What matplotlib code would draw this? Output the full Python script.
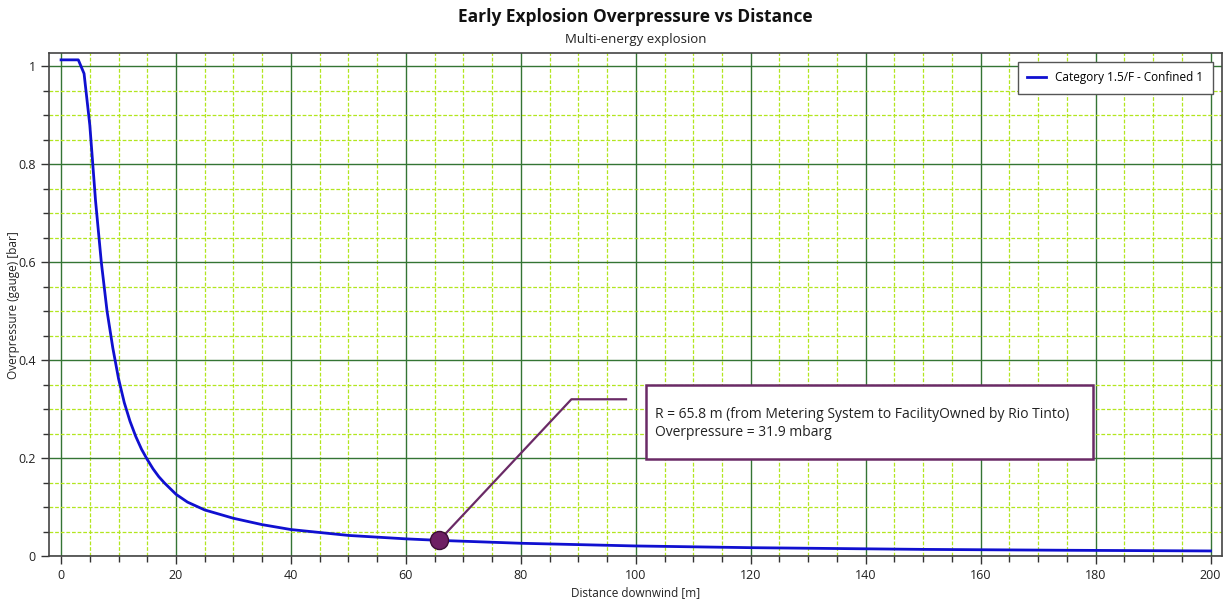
import matplotlib
matplotlib.use("Agg")
import matplotlib.pyplot as plt
from matplotlib.ticker import MultipleLocator
from matplotlib.patches import Rectangle

# ---- data ----
distance = [0, 3, 4, 5, 6, 7, 8, 9, 10, 11, 12, 13, 14, 15, 16, 17, 18, 20,
            22, 25, 30, 35, 40, 50, 60, 65.8, 80, 100, 120, 150, 175, 200]
overpressure = [1.013, 1.013, 0.985, 0.88, 0.725, 0.60, 0.50, 0.425, 0.362,
                0.313, 0.275, 0.244, 0.218, 0.197, 0.178, 0.162, 0.149, 0.126,
                0.110, 0.094, 0.077, 0.064, 0.054, 0.042, 0.035, 0.0319, 0.026,
                0.0205, 0.017, 0.0135, 0.0117, 0.0103]
series_label = "Category 1.5/F - Confined 1"
marker_distance = 65.8
marker_overpressure = 0.0319
annot_lines = ["R = 65.8 m (from Metering System to FacilityOwned by Rio Tinto)",
               "Overpressure = 31.9 mbarg"]
title = "Early Explosion Overpressure vs Distance"
subtitle = "Multi-energy explosion"
xlabel = "Distance downwind [m]"
ylabel = "Overpressure (gauge) [bar]"

plt.rcParams['font.family'] = ['Open Sans', 'DejaVu Sans']

W, H = 1223, 603
fig = plt.figure(figsize=(W / 100, H / 100), dpi=100)
ax = fig.add_axes([49 / W, 1 - 556 / H, (1222 - 49) / W, (556 - 53) / H])
cx = (49 + 1222) / 2 / W

major_c = "#347534"
minor_c = "#b2e61e"
ax.set_xlim(-2.1, 202)
ax.set_ylim(0, 1.027)
ax.xaxis.set_major_locator(MultipleLocator(20))
ax.xaxis.set_minor_locator(MultipleLocator(5))
ax.yaxis.set_major_locator(MultipleLocator(0.2))
ax.yaxis.set_minor_locator(MultipleLocator(0.05))
ax.set_yticks([0, 0.2, 0.4, 0.6, 0.8, 1.0])
ax.set_yticklabels(["0", "0.2", "0.4", "0.6", "0.8", "1"])
ax.grid(which="minor", color=minor_c, linestyle=(0, (3, 1.5)), linewidth=0.9)
ax.grid(which="major", color=major_c, linestyle="-", linewidth=1.0)
ax.set_axisbelow(True)
ax.tick_params(which="major", direction="out", length=6, width=1,
               color="#333333", labelsize=9, labelcolor="#222222")
ax.tick_params(which="minor", direction="out", length=4, width=1, color="#333333")
for s in ax.spines.values():
    s.set_color("#444444")
    s.set_linewidth(1.2)

ax.plot(distance, overpressure, color="#1010d0", linewidth=2, label=series_label,
        zorder=3)

# leader line and marker
ax.plot([marker_distance, 88.8, 98.3], [marker_overpressure, 0.32, 0.32],
        color="#6a2a66", linewidth=1.6, zorder=4)
ax.plot([marker_distance], [marker_overpressure], marker="o", markersize=13,
        markerfacecolor="#6e1f63", markeredgecolor="#3a0d35", zorder=5)

# annotation box
ax.add_patch(Rectangle((101.8, 0.198), 77.7, 0.151, facecolor="white",
                       edgecolor="#6a2a66", linewidth=1.8, zorder=4))
ax.text(103.3, 0.289, annot_lines[0], fontsize=10, color="#222222",
        va="center", ha="left", zorder=5)
ax.text(103.3, 0.252, annot_lines[1], fontsize=10, color="#222222",
        va="center", ha="left", zorder=5)

leg = ax.legend(loc="upper right", fontsize=8.5, frameon=True, fancybox=False,
                edgecolor="#555555", framealpha=1, handlelength=1.6,
                borderpad=0.8, borderaxespad=0,
                bbox_to_anchor=((1213 - 49) / 1173, (556 - 62) / 503))
leg.get_frame().set_linewidth(1.0)

fig.text(cx, 1 - 17 / H, title, ha="center", va="center", fontsize=12.5,
         fontweight="bold", color="#111111")
fig.text(cx, 1 - 40 / H, subtitle, ha="center", va="center", fontsize=9.5,
         color="#222222")
fig.text(cx, 1 - 593 / H, xlabel, ha="center", va="center",
         fontsize=8.5, color="#222222")
fig.text(14 / W, 1 - 305 / H, ylabel, ha="center", va="center", rotation=90,
         fontsize=8.5, color="#222222")

fig.savefig("out.png", dpi=100, facecolor="white")
